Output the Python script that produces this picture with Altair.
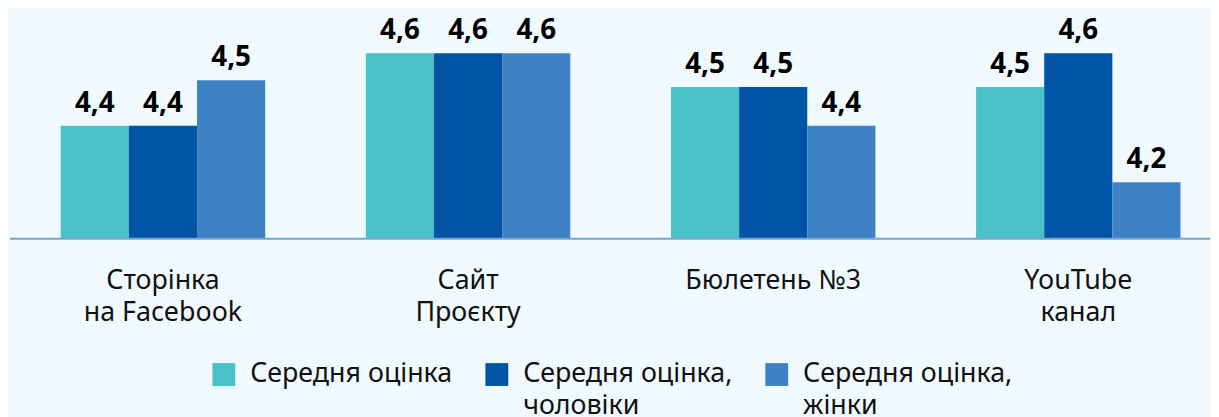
import altair as alt
import pandas as pd

category_lines = [["Сторінка", "на Facebook"], ["Сайт", "Проєкту"], ["Бюлетень №3"], ["YouTube", "канал"]]
categories = [" ".join(l) for l in category_lines]
series_lines = [["Середня оцінка", ""], ["Середня оцінка,", "чоловіки"], ["Середня оцінка,", "жінки"]]
series = [" ".join(x for x in l if x) for l in series_lines]
colors = ["#48C2C6", "#0054A6", "#3E82C6"]

avg_all = [4.392, 4.592, 4.499, 4.499]
avg_men = [4.392, 4.592, 4.499, 4.592]
avg_women = [4.518, 4.592, 4.392, 4.236]

rows = []
for ci, c in enumerate(categories):
    for s, vals in zip(series, [avg_all, avg_men, avg_women]):
        rows.append({"category": c, "series": s, "value": vals[ci]})
df = pd.DataFrame(rows)


def ternary(names, lines):
    expr = "datum.label"
    for n, l in reversed(list(zip(names, lines))):
        arr = "[" + ",".join("'" + x + "'" for x in l) + "]"
        expr = f"datum.label == '{n}' ? {arr} : ({expr})"
    return expr


FONT = "Noto Sans"
ymin, ymax = 4.08, 4.7129

x = alt.X("category:N", sort=categories, title=None,
          scale=alt.Scale(paddingInner=0.3299, paddingOuter=0.1217, align=0.71),
          axis=alt.Axis(labelAngle=0, domain=False, ticks=False, labelPadding=29,
                        labelFontSize=27, labelFont=FONT, labelColor="#111111",
                        labelLineHeight=32, labelExpr=ternary(categories, category_lines)))
xo = alt.XOffset("series:N", sort=series, scale=alt.Scale(paddingInner=0, paddingOuter=0))
y = alt.Y("value:Q", scale=alt.Scale(domain=[ymin, ymax], zero=False, nice=False), axis=None)

base = alt.Chart(df)
bars = base.mark_bar(clip=True).encode(
    x=x, xOffset=xo, y=y, y2=alt.datum(ymin),
    color=alt.Color("series:N", sort=series, scale=alt.Scale(domain=series, range=colors),
                    legend=alt.Legend(title=None, orient="none", legendX=204, legendY=354,
                                      direction="horizontal", symbolType="square", symbolSize=529,
                                      symbolStrokeWidth=0, labelFontSize=27, labelFont=FONT,
                                      labelColor="#111111", labelLimit=400, labelOffset=13,
                                      columnPadding=31, labelBaseline="middle",
                                      labelExpr=ternary(series, series_lines))),
)
texts = base.mark_text(baseline="alphabetic", dy=-14, fontSize=28, fontWeight="bold",
                       font=FONT, color="#000000").encode(
    x=x, xOffset=xo, y=y,
    text=alt.Text("label:N"),
).transform_calculate(label="replace(format(datum.value, '.1f'), '.', ',')")

rule = alt.Chart(pd.DataFrame({"v": [ymin]})).mark_rule(color="#74A6CB", strokeWidth=2).encode(
    y=alt.Y("v:Q", scale=alt.Scale(domain=[ymin, ymax], zero=False, nice=False), axis=None),
    x=alt.value(2), x2=alt.value(1211),
)

chart = alt.layer(bars, texts, rule).properties(
    width=1203, height=231, background="#F0FAFE", padding=0
).configure(
    view=alt.ViewConfig(strokeWidth=0),
    style={"guide-label": {"lineHeight": 32}},
)

chart.save("out.html", embed_options={"renderer": "svg", "actions": False})
